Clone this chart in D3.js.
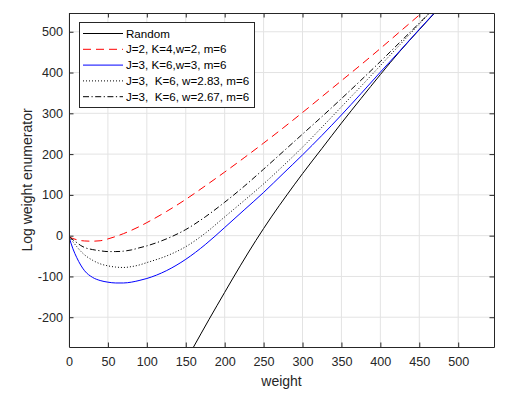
<!DOCTYPE html>
<html lang="en">
<head>
<meta charset="UTF-8">
<title>Log weight enumerator</title>
<style>
  body { margin: 0; background: #fff; }
  svg { display: block; font-family: "Liberation Sans", Arial, sans-serif; }
</style>
</head>
<body>
<svg id="chart" width="518" height="399"></svg>
<script src="https://d3js.org/d3.v7.min.js"></script>
<script>
// weights shared by the four code curves
var weights = [0, 5, 10, 15, 20, 30, 40, 50, 60, 70, 80, 90, 100, 125, 150, 175, 200,
  225, 250, 275, 300, 325, 350, 375, 400, 425, 450, 475];

var red = [-3, -7, -10, -12, -13, -13.5, -12.5, -8, -2, 5, 13, 22, 32, 59, 89, 122, 156,
  191, 227, 264, 302, 341, 380, 419, 459, 500, 541, 582];
var blue = [-3, -32, -54, -72, -86, -102, -110, -114, -116, -116, -114, -110, -105, -86, -58, -22, 20,
  63, 106, 152, 198, 246, 296, 348, 401, 453, 506, 558];
var dotted = [-3, -15, -27, -38, -47, -60, -69, -74, -77, -78, -76, -72, -66, -50, -27, 6, 46,
  86, 127, 171, 217, 266, 316, 366, 417, 468, 519, 570];
var dashdot = [-3, -10, -17, -24, -29, -34, -37, -39, -39, -38, -35, -30, -25, -8, 15, 46, 82,
  121, 163, 206, 249, 292, 336, 381, 427, 474, 521, 569];

var randomW = [150, 160, 180, 200, 220, 240, 260, 280, 300, 325, 350, 375, 400, 425, 450, 475];
var randomV = [-307, -273, -205, -139, -74, -12, 46, 100, 152, 214, 276, 336, 395, 452, 505, 557];

var xTicks = [0, 50, 100, 150, 200, 250, 300, 350, 400, 450, 500];
var yTicks = [-200, -100, 0, 100, 200, 300, 400, 500];

var legendLabels = ["Random", "J=2, K=4,w=2, m=6", "J=3, K=6,w=3, m=6",
  "J=3,  K=6, w=2.83, m=6", "J=3,  K=6, w=2.67, m=6"];

var svg = d3.select("#chart"),
  pl = 69, pr = 494, pt = 13, pb = 347,
  ink = "#262626";

var x = d3.scaleLinear().domain([0, 546]).range([pl, pr]);
var y = d3.scaleLinear().domain([-273, 546]).range([pb, pt]);

var series = [
  { w: randomW, v: randomV, color: "#000", dash: null },
  { w: weights, v: red, color: "#ff0000", dash: "8,5" },
  { w: weights, v: blue, color: "#0000ff", dash: null },
  { w: weights, v: dotted, color: "#000", dash: "1,2" },
  { w: weights, v: dashdot, color: "#000", dash: "6,2.5,1.2,2.5" }
];

// grid
svg.append("g").selectAll("line").data(xTicks).join("line")
  .attr("x1", d => x(d)).attr("x2", d => x(d))
  .attr("y1", pt).attr("y2", pb)
  .attr("stroke", "#e3e3e3");
svg.append("g").selectAll("line").data(yTicks).join("line")
  .attr("x1", pl).attr("x2", pr)
  .attr("y1", d => y(d)).attr("y2", d => y(d))
  .attr("stroke", "#e3e3e3");

svg.append("clipPath").attr("id", "plotclip")
  .append("rect").attr("x", pl).attr("y", pt)
  .attr("width", pr - pl).attr("height", pb - pt);

var line = d3.line().curve(d3.curveMonotoneX);

svg.append("g").attr("clip-path", "url(#plotclip)")
  .selectAll("path").data(series).join("path")
  .attr("d", s => line(s.w.map((w, i) => [x(w), y(s.v[i])])))
  .attr("fill", "none")
  .attr("stroke", s => s.color)
  .attr("stroke-width", 1)
  .attr("stroke-dasharray", s => s.dash);

// axes, MATLAB style: ticks inward on all four sides
function styleAxis(g) {
  g.select(".domain").attr("stroke", ink);
  g.selectAll(".tick line").attr("stroke", ink);
  g.selectAll(".tick text").attr("fill", ink).style("font-size", "12.6px");
}

var plain = d => String(d);

svg.append("g").attr("transform", "translate(0," + pb + ")")
  .call(d3.axisBottom(x).tickValues(xTicks).tickFormat(plain)
    .tickSizeInner(-4.5).tickSizeOuter(0).tickPadding(10))
  .call(styleAxis);
svg.append("g").attr("transform", "translate(0," + pt + ")")
  .call(d3.axisTop(x).tickValues(xTicks).tickSizeInner(-4.5).tickSizeOuter(0).tickFormat(""))
  .call(styleAxis);
svg.append("g").attr("transform", "translate(" + pl + ",0)")
  .call(d3.axisLeft(y).tickValues(yTicks).tickFormat(plain)
    .tickSizeInner(-4.5).tickSizeOuter(0).tickPadding(6))
  .call(styleAxis);
svg.append("g").attr("transform", "translate(" + pr + ",0)")
  .call(d3.axisRight(y).tickValues(yTicks).tickSizeInner(-4.5).tickSizeOuter(0).tickFormat(""))
  .call(styleAxis);

svg.append("text")
  .attr("x", (pl + pr) / 2).attr("y", 386)
  .attr("text-anchor", "middle").attr("fill", ink)
  .style("font-size", "14px").text("weight");

svg.append("text")
  .attr("transform", "translate(32," + (pt + pb) / 2 + ") rotate(-90)")
  .attr("text-anchor", "middle").attr("fill", ink)
  .style("font-size", "14px").text("Log weight enumerator");

// legend
var lg = svg.append("g");
lg.append("rect")
  .attr("x", 79.5).attr("y", 22.5).attr("width", 175).attr("height", 85)
  .attr("fill", "#fff").attr("stroke", ink).attr("stroke-width", 1);

var rows = lg.selectAll("g.row").data(series).join("g")
  .attr("class", "row")
  .attr("transform", (s, i) => "translate(0," + (33.5 + i * 15.8) + ")");
rows.append("line")
  .attr("x1", 83).attr("x2", 123)
  .attr("stroke", s => s.color).attr("stroke-width", 1)
  .attr("stroke-dasharray", s => s.dash);
rows.append("text")
  .attr("x", 126).attr("dy", "0.35em").attr("fill", "#000")
  .style("font-size", "11.6px").style("white-space", "pre")
  .text((s, i) => legendLabels[i]);
</script>
</body>
</html>
